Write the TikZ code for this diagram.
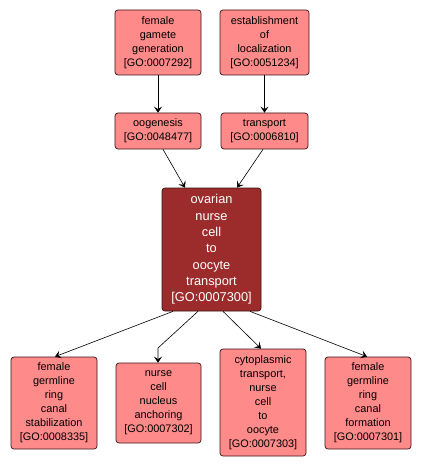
\documentclass[tikz,border=0pt]{standalone}
\usepackage{fontspec}
\setmainfont{Liberation Sans}
\usetikzlibrary{arrows.meta}
\definecolor{gopink}{RGB}{255,138,138}
\definecolor{godark}{RGB}{156,44,44}
\definecolor{goborder}{RGB}{60,20,20}
\begin{document}
\begin{tikzpicture}[x=1pt,y=-1pt,
  gobox/.style={draw=goborder, line width=0.7pt, fill=gopink, rounded corners=3pt,
    inner sep=0pt, align=center, font=\fontsize{10.9}{14}\selectfont},
  gomain/.style={gobox, fill=godark, text=white, font=\fontsize{12.8}{16.3}\selectfont},
  goedge/.style={draw=black, line width=0.6pt, -{Stealth[length=6pt,width=8pt,inset=2.5pt]}}]
\useasboundingbox (0,0) rectangle (421,468);
\fill[white] (0,0) rectangle (421,468);

\node[gobox, minimum width=86pt, minimum height=65pt] (fgg) at (158,42.5)
  {female\\gamete\\generation\\{[}GO:0007292{]}};
\node[gobox, minimum width=89pt, minimum height=65pt] (est) at (264.5,42.5)
  {establishment\\of\\localization\\{[}GO:0051234{]}};
\node[gobox, minimum width=86pt, minimum height=36pt] (oog) at (158,131)
  {oogenesis\\{[}GO:0048477{]}};
\node[gobox, minimum width=87pt, minimum height=36pt] (tra) at (264.5,131)
  {transport\\{[}GO:0006810{]}};
\node[gomain, minimum width=99pt, minimum height=123pt] (ctr) at (211.5,249.5)
  {ovarian\\nurse\\cell\\to\\oocyte\\transport\\{[}GO:0007300{]}};
\node[gobox, minimum width=86pt, minimum height=92pt] (b1) at (54,403)
  {female\\germline\\ring\\canal\\stabilization\\{[}GO:0008335{]}};
\node[gobox, minimum width=85pt, minimum height=80pt] (b2) at (158.5,403)
  {nurse\\cell\\nucleus\\anchoring\\{[}GO:0007302{]}};
\node[gobox, minimum width=86pt, minimum height=107pt] (b3) at (263,402.5)
  {cytoplasmic\\transport,\\nurse\\cell\\to\\oocyte\\{[}GO:0007303{]}};
\node[gobox, minimum width=86pt, minimum height=92pt] (b4) at (368,403)
  {female\\germline\\ring\\canal\\formation\\{[}GO:0007301{]}};

\coordinate (bend) at (158,348);

\draw[goedge] (fgg.south) -- (oog.north);
\draw[goedge] (est.south) -- (tra.north);
\draw[goedge] ([xshift=5pt]oog.south) -- ([xshift=-26.5pt]ctr.north);
\draw[goedge] ([xshift=-1.5pt]tra.south) -- ([xshift=25.5pt]ctr.north);
\draw[goedge] ([xshift=-38.5pt]ctr.south) -- ([xshift=1pt]b1.north);
\draw[goedge] ([xshift=-13.5pt]ctr.south) -- (bend) -- ([xshift=-0.5pt]b2.north);
\draw[goedge] ([xshift=11.5pt]ctr.south) -- ([xshift=-2pt]b3.north);
\draw[goedge] ([xshift=38.5pt]ctr.south) -- ([xshift=-1pt]b4.north);
\end{tikzpicture}
\end{document}
